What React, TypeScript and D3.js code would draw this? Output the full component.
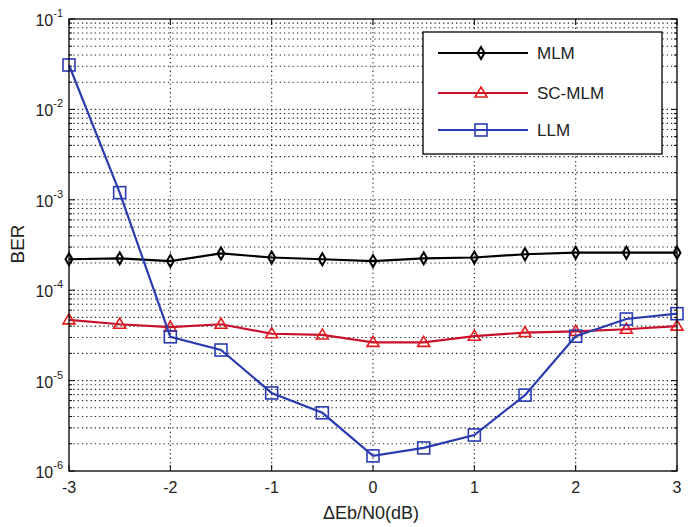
import React, { useEffect, useRef } from 'react'
import * as d3 from 'd3'

const snr = [-3, -2.5, -2, -1.5, -1, -0.5, 0, 0.5, 1, 1.5, 2, 2.5, 3]
const mlm = [2.2e-4, 2.25e-4, 2.1e-4, 2.55e-4, 2.3e-4, 2.2e-4, 2.1e-4, 2.25e-4, 2.3e-4, 2.5e-4, 2.6e-4, 2.6e-4, 2.6e-4]
const scMlm = [4.7e-5, 4.2e-5, 3.9e-5, 4.2e-5, 3.3e-5, 3.2e-5, 2.65e-5, 2.65e-5, 3.1e-5, 3.4e-5, 3.5e-5, 3.7e-5, 4.0e-5]
const llm = [3.1e-2, 1.2e-3, 3.05e-5, 2.18e-5, 7.3e-6, 4.4e-6, 1.47e-6, 1.8e-6, 2.5e-6, 6.9e-6, 3.1e-5, 4.8e-5, 5.5e-5]
const xTicks = [-3, -2, -1, 0, 1, 2, 3]
const yDecades = [-6, -5, -4, -3, -2, -1]
const seriesNames = ['MLM', 'SC-MLM', 'LLM']

export default function App() {
  const ref = useRef<SVGSVGElement>(null)

  useEffect(() => {
    const svg = d3.select(ref.current)
    svg.selectAll('*').remove()

    const width = 688
    const height = 527
    const margin = { top: 19, right: 11, bottom: 56, left: 69 }
    const iw = width - margin.left - margin.right
    const ih = height - margin.top - margin.bottom
    const font = 'Liberation Sans, Arial, sans-serif'

    svg.append('rect').attr('width', width).attr('height', height).attr('fill', '#fff')

    const g = svg.append('g').attr('transform', `translate(${margin.left},${margin.top})`)

    const x = d3.scaleLinear().domain([-3, 3]).range([0, iw])
    const y = d3.scaleLog().domain([1e-6, 1e-1]).range([ih, 0])

    // grid
    const minor: number[] = []
    yDecades.slice(0, -1).forEach(e => {
      for (let k = 2; k <= 9; k++) minor.push(k * Math.pow(10, e))
    })
    const major = yDecades.map(e => Math.pow(10, e))
    const grid = g.append('g').attr('stroke', '#222').attr('stroke-width', 1.1).attr('stroke-dasharray', '1.3,3')
    grid.selectAll('.hy').data([...minor, ...major.slice(1, -1)]).enter().append('line')
      .attr('x1', 0).attr('x2', iw)
      .attr('y1', d => y(d)).attr('y2', d => y(d))
    grid.selectAll('.vx').data(xTicks.slice(1, -1)).enter().append('line')
      .attr('y1', 0).attr('y2', ih)
      .attr('x1', d => x(d)).attr('x2', d => x(d))

    // ticks
    const ticks = g.append('g').attr('stroke', '#000').attr('stroke-width', 1)
    xTicks.forEach(t => {
      ticks.append('line').attr('x1', x(t)).attr('x2', x(t)).attr('y1', ih).attr('y2', ih - 6)
      ticks.append('line').attr('x1', x(t)).attr('x2', x(t)).attr('y1', 0).attr('y2', 6)
    })
    major.forEach(v => {
      ticks.append('line').attr('x1', 0).attr('x2', 6).attr('y1', y(v)).attr('y2', y(v))
      ticks.append('line').attr('x1', iw).attr('x2', iw - 6).attr('y1', y(v)).attr('y2', y(v))
    })
    minor.forEach(v => {
      ticks.append('line').attr('x1', 0).attr('x2', 3).attr('y1', y(v)).attr('y2', y(v))
      ticks.append('line').attr('x1', iw).attr('x2', iw - 3).attr('y1', y(v)).attr('y2', y(v))
    })

    // tick labels
    g.selectAll('.xl').data(xTicks).enter().append('text')
      .attr('x', d => x(d)).attr('y', ih + 22)
      .attr('text-anchor', 'middle').attr('font-family', font).attr('font-size', 16)
      .attr('fill', '#222')
      .text(d => String(d))

    yDecades.forEach(e => {
      const t = g.append('text')
        .attr('x', -6).attr('y', y(Math.pow(10, e)) + 7)
        .attr('text-anchor', 'end').attr('font-family', font).attr('font-size', 16)
        .attr('fill', '#222')
      t.append('tspan').text('10')
      t.append('tspan').attr('dy', -9).attr('font-size', 11).text(String(e))
    })

    // axis labels
    svg.append('text')
      .attr('x', margin.left + iw / 2 - 2).attr('y', 519)
      .attr('text-anchor', 'middle').attr('font-family', font).attr('font-size', 18)
      .attr('fill', '#222')
      .text('ΔEb/N0(dB)')
    svg.append('text')
      .attr('transform', `translate(24,244) rotate(-90)`)
      .attr('text-anchor', 'middle').attr('font-family', font).attr('font-size', 19)
      .attr('fill', '#222')
      .text('BER')

    const colors = ['#000000', '#e31a1c', '#2b3cb0']
    const lineColors = ['#000000', '#c8102e', '#2b3cb0']
    const datasets = [mlm, scMlm, llm]

    const drawMarker = (sel: d3.Selection<SVGGElement, unknown, null, undefined>, i: number, cx: number, cy: number) => {
      if (i === 0) {
        sel.append('path')
          .attr('d', `M${cx},${cy - 6}L${cx + 3.5},${cy}L${cx},${cy + 6}L${cx - 3.5},${cy}Z`)
          .attr('fill', 'none').attr('stroke', colors[0]).attr('stroke-width', 2)
      } else if (i === 1) {
        sel.append('path')
          .attr('d', `M${cx},${cy - 6}L${cx + 6},${cy + 4}L${cx - 6},${cy + 4}Z`)
          .attr('fill', 'none').attr('stroke', colors[1]).attr('stroke-width', 1.6)
      } else {
        sel.append('rect')
          .attr('x', cx - 6).attr('y', cy - 6).attr('width', 12).attr('height', 12)
          .attr('fill', 'none').attr('stroke', colors[2]).attr('stroke-width', 1.6)
      }
    }

    const line = d3.line<number>().x((_, i) => x(snr[i])).y(d => y(d))
    datasets.forEach((data, si) => {
      const sg = g.append('g')
      sg.append('path').attr('d', line(data)).attr('fill', 'none')
        .attr('stroke', lineColors[si]).attr('stroke-width', 2.2)
      data.forEach((v, i) => drawMarker(sg, si, x(snr[i]), y(v)))
    })

    // frame
    g.append('rect').attr('width', iw).attr('height', ih)
      .attr('fill', 'none').attr('stroke', '#000').attr('stroke-width', 1.3)

    // legend
    const lg = svg.append('g').attr('transform', 'translate(423,32)')
    lg.append('rect').attr('width', 239).attr('height', 122)
      .attr('fill', '#fff').attr('stroke', '#000').attr('stroke-width', 1.3)
    const rowY = [21, 61, 98]
    seriesNames.forEach((name, si) => {
      const row = lg.append('g')
      row.append('line').attr('x1', 15).attr('x2', 105).attr('y1', rowY[si]).attr('y2', rowY[si])
        .attr('stroke', lineColors[si]).attr('stroke-width', 2.2)
      drawMarker(row, si, 58, rowY[si])
      row.append('text').attr('x', 114).attr('y', rowY[si] + 6)
        .attr('font-family', font).attr('font-size', 17).attr('fill', '#222').text(name)
    })
  }, [])

  return <svg ref={ref} width={688} height={527} style={{ display: 'block', position: 'absolute', left: 0, top: 0 }} />
}
